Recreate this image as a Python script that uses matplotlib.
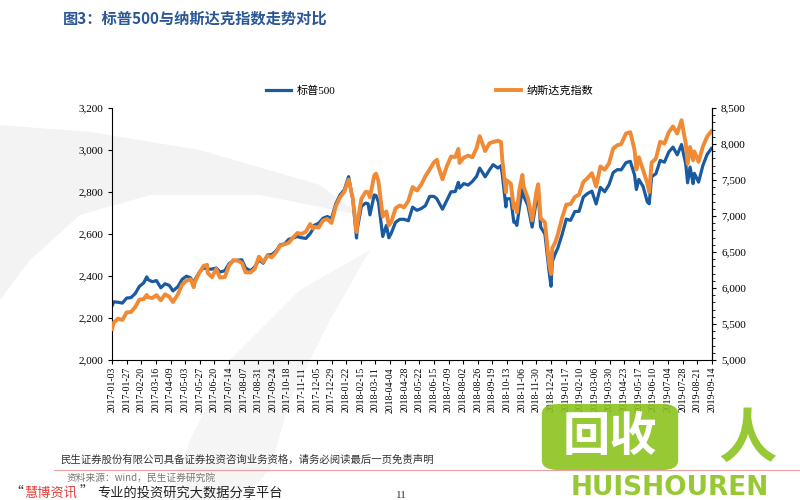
import pandas as pd
import matplotlib.pyplot as plt
from matplotlib.patches import Polygon, FancyBboxPatch
from matplotlib.ticker import FuncFormatter, MultipleLocator

plt.rcParams['font.family'] = ['Liberation Serif', 'Noto Sans CJK SC', 'DejaVu Sans']

# 数据（从图上读取的周度近似值）
dates = ['2017-01-03', '2017-01-06', '2017-01-13', '2017-01-20', '2017-01-27', '2017-02-03',
         '2017-02-10', '2017-02-17', '2017-02-24', '2017-03-01', '2017-03-03', '2017-03-10',
         '2017-03-17', '2017-03-24', '2017-03-31', '2017-04-07', '2017-04-13', '2017-04-21',
         '2017-04-28', '2017-05-05', '2017-05-12', '2017-05-17', '2017-05-19', '2017-05-26',
         '2017-06-02', '2017-06-08', '2017-06-09', '2017-06-16', '2017-06-23', '2017-06-29',
         '2017-07-07', '2017-07-14', '2017-07-21', '2017-07-27', '2017-08-04', '2017-08-10',
         '2017-08-18', '2017-08-25', '2017-09-01', '2017-09-08', '2017-09-15', '2017-09-22',
         '2017-09-29', '2017-10-06', '2017-10-13', '2017-10-20', '2017-10-27', '2017-11-03',
         '2017-11-10', '2017-11-17', '2017-11-24', '2017-11-29', '2017-12-01', '2017-12-08',
         '2017-12-15', '2017-12-22', '2017-12-29',
         '2018-01-05', '2018-01-12', '2018-01-19', '2018-01-26', '2018-02-02', '2018-02-08',
         '2018-02-09', '2018-02-16', '2018-02-23', '2018-02-27', '2018-03-02', '2018-03-09',
         '2018-03-12', '2018-03-16', '2018-03-23', '2018-03-29', '2018-04-02', '2018-04-06',
         '2018-04-13', '2018-04-20', '2018-04-27', '2018-05-04', '2018-05-11', '2018-05-18',
         '2018-05-25', '2018-06-01', '2018-06-08', '2018-06-15', '2018-06-20', '2018-06-22',
         '2018-06-29', '2018-07-06', '2018-07-13', '2018-07-20', '2018-07-25', '2018-07-27',
         '2018-08-03', '2018-08-10', '2018-08-17', '2018-08-24', '2018-08-29', '2018-09-07',
         '2018-09-14', '2018-09-20', '2018-09-28', '2018-10-03', '2018-10-05', '2018-10-11',
         '2018-10-12', '2018-10-19', '2018-10-24', '2018-10-26', '2018-10-29', '2018-11-02',
         '2018-11-07', '2018-11-09', '2018-11-16', '2018-11-23', '2018-11-30', '2018-12-03',
         '2018-12-07', '2018-12-14', '2018-12-21', '2018-12-24', '2018-12-26', '2018-12-31',
         '2019-01-04', '2019-01-11', '2019-01-18', '2019-01-25', '2019-02-01', '2019-02-08',
         '2019-02-15', '2019-02-22', '2019-03-01', '2019-03-08', '2019-03-15', '2019-03-22',
         '2019-03-29', '2019-04-05', '2019-04-12', '2019-04-18', '2019-04-26', '2019-05-03',
         '2019-05-10', '2019-05-13', '2019-05-17', '2019-05-24', '2019-05-31', '2019-06-03',
         '2019-06-07', '2019-06-14', '2019-06-21', '2019-06-28', '2019-07-05', '2019-07-12',
         '2019-07-19', '2019-07-26', '2019-08-02', '2019-08-05', '2019-08-09', '2019-08-14',
         '2019-08-16', '2019-08-23', '2019-08-30', '2019-09-06', '2019-09-13']

sp500 = [2258, 2277, 2275, 2271, 2295, 2297, 2316, 2351, 2367, 2396, 2383, 2373,
         2378, 2344, 2363, 2355, 2329, 2349, 2384, 2399, 2391, 2357, 2382, 2416,
         2439, 2434, 2432, 2433, 2438, 2419, 2425, 2459, 2472, 2475, 2477, 2438,
         2425, 2443, 2477, 2461, 2500, 2502, 2519, 2549, 2553, 2575, 2581, 2588,
         2582, 2579, 2602, 2626, 2642, 2651, 2675, 2683, 2674,
         2743, 2786, 2810, 2873, 2762, 2581, 2620, 2732, 2747, 2744, 2691, 2786,
         2783, 2752, 2588, 2641, 2582, 2604, 2656, 2670, 2670, 2663, 2728, 2713,
         2721, 2735, 2779, 2779, 2767, 2755, 2718, 2760, 2801, 2802, 2846, 2819,
         2840, 2833, 2850, 2875, 2914, 2872, 2905, 2930, 2914, 2925, 2886, 2729,
         2767, 2768, 2656, 2658, 2641, 2723, 2813, 2781, 2736, 2633, 2760, 2790,
         2633, 2600, 2417, 2351, 2468, 2507,
         2532, 2596, 2671, 2665, 2707, 2708, 2776, 2793, 2804, 2743, 2822, 2801,
         2834, 2893, 2907, 2905, 2940, 2946, 2881, 2812, 2860, 2826, 2752, 2744,
         2873, 2887, 2950, 2942, 2990, 3014, 2977, 3026, 2932, 2844, 2919, 2840,
         2889, 2847, 2926, 2979, 3007]

nasdaq = [5429, 5521, 5574, 5555, 5661, 5667, 5734, 5839, 5845, 5904, 5871, 5861,
          5901, 5829, 5912, 5878, 5805, 5910, 6048, 6100, 6121, 6011, 6083, 6210,
          6306, 6322, 6208, 6151, 6265, 6144, 6153, 6312, 6388, 6382, 6351, 6217,
          6216, 6265, 6435, 6360, 6448, 6427, 6496, 6590, 6606, 6629, 6701, 6764,
          6751, 6783, 6889, 6824, 6848, 6840, 6937, 6959, 6903,
          7136, 7261, 7336, 7506, 7241, 6777, 6874, 7239, 7337, 7330, 7258, 7560,
          7588, 7482, 6993, 7063, 6870, 6915, 7107, 7146, 7120, 7209, 7403, 7354,
          7434, 7554, 7646, 7746, 7781, 7692, 7510, 7688, 7826, 7820, 7932, 7737,
          7812, 7839, 7816, 7945, 8109, 7903, 8010, 8028, 8046, 8025, 7788, 7329,
          7497, 7449, 7108, 7167, 7050, 7357, 7570, 7407, 7248, 6939, 7331, 7441,
          6969, 6911, 6333, 6193, 6554, 6635,
          6739, 6971, 7157, 7165, 7263, 7298, 7472, 7527, 7595, 7408, 7688, 7643,
          7729, 7939, 7984, 7998, 8146, 8164, 7917, 7647, 7816, 7637, 7453, 7333,
          7742, 7797, 8032, 8006, 8162, 8244, 8146, 8330, 8004, 7726, 7959, 7774,
          7896, 7752, 7963, 8103, 8177]

series_names = ['标普500', '纳斯达克指数']

x = pd.to_datetime(dates)
tick_dates = pd.date_range('2017-01-03', '2019-09-14', freq='24D')

fig = plt.figure(figsize=(8, 5), dpi=100)


def px(pts):
    return [(a / 800, 1 - b / 500) for a, b in pts]


# 背景水印（浅灰色弧形）
fig.patches.append(Polygon(px([(0, 125), (90, 132), (200, 150), (320, 185), (360, 215),
                               (260, 195), (150, 195), (80, 215), (30, 260), (0, 300)]),
                           closed=True, transform=fig.transFigure, facecolor='#f3f3f3',
                           edgecolor='none', zorder=-1))
fig.patches.append(Polygon(px([(190, 440), (230, 360), (300, 290), (370, 250), (330, 320),
                               (290, 400), (270, 470), (240, 500), (170, 500)]),
                           closed=True, transform=fig.transFigure, facecolor='#f5f5f5',
                           edgecolor='none', zorder=-1))

ax = fig.add_axes([0.14, 0.28, 0.75, 0.504])
ax.patch.set_alpha(0)
ax2 = ax.twinx()

l1, = ax.plot(x, sp500, color='#1a5aa0', lw=2.3)
l2, = ax2.plot(x, nasdaq, color='#f08a35', lw=2.8)

ax.set_xlim(pd.Timestamp('2017-01-03'), pd.Timestamp('2019-09-14'))
ax.set_ylim(2000, 3200)
ax2.set_ylim(5000, 8500)
ax.yaxis.set_major_locator(MultipleLocator(200))
ax2.yaxis.set_major_locator(MultipleLocator(500))
ax2.yaxis.set_minor_locator(MultipleLocator(100))
fmt = FuncFormatter(lambda v, p: f'{int(v):,}')
ax.yaxis.set_major_formatter(fmt)
ax2.yaxis.set_major_formatter(fmt)

ax.set_xticks(tick_dates)
ax.set_xticklabels([d.strftime('%Y-%m-%d') for d in tick_dates], rotation=90, fontsize=7)
ax.tick_params(axis='x', length=3, pad=2)
ax.tick_params(axis='y', labelsize=8, length=3)
ax2.tick_params(axis='y', labelsize=8, length=3)
ax2.tick_params(axis='y', which='minor', length=2)

for a in (ax, ax2):
    a.spines['top'].set_visible(False)
ax2.spines['left'].set_visible(False)
ax2.spines['bottom'].set_visible(False)

fig.legend([l1, l2], series_names, loc='center', bbox_to_anchor=(0.537, 0.818), ncol=2,
           frameon=False, columnspacing=14.5, handlelength=2.2, handletextpad=0.5, fontsize=8)

# 标题
fig.text(0.078, 0.963, '图3：标普500与纳斯达克指数走势对比', fontsize=11, fontweight='bold',
         color='#2b5797', family=['Noto Sans CJK SC'], va='center')

# 页脚
fig.text(0.075, 0.08, '民生证券股份有限公司具备证券投资咨询业务资格，请务必阅读最后一页免责声明',
         fontsize=7.5, color='#333333', family=['Noto Sans CJK SC'], va='center')
fig.add_artist(plt.Line2D([0.068, 1.0], [0.06, 0.06], color='#e8a0a0', lw=0.8))
fig.text(0.083, 0.045, '资料来源：wind，民生证券研究院', fontsize=7, color='#777777',
         style='italic', family=['Noto Sans CJK SC'], va='center')
fig.text(0.012, 0.014, '“', fontsize=10, color='#333333', family=['Noto Sans CJK SC'], va='center')
fig.text(0.03, 0.014, '慧博资讯', fontsize=9.5, color='#e0403a', family=['Noto Sans CJK SC'],
         va='center')
fig.text(0.1, 0.014, '”', fontsize=10, color='#333333', family=['Noto Sans CJK SC'], va='center')
fig.text(0.122, 0.014, '专业的投资研究大数据分享平台', fontsize=9.5, color='#222222',
         family=['Noto Sans CJK SC'], va='center')
fig.text(0.495, 0.008, '11', fontsize=8, color='#333333', va='center')

# 右下角水印标志
fig.patches.append(FancyBboxPatch((545 / 800, 1 - 468 / 500), 130 / 800, 62 / 500,
                                  boxstyle='round,pad=0.004,rounding_size=0.02',
                                  transform=fig.transFigure, facecolor='#8cc31f',
                                  edgecolor='none', alpha=0.9, zorder=5))
fig.text(610 / 800, 1 - 437 / 500, '回收', fontsize=34, fontweight='bold', color='white',
         family=['Noto Sans CJK SC'], ha='center', va='center', zorder=6)
fig.text(748 / 800, 1 - 440 / 500, '人', fontsize=42, fontweight='bold', color='#8cc31f',
         family=['Noto Sans CJK SC'], ha='center', va='center', alpha=0.9, zorder=6)
fig.text(670 / 800, 1 - 488 / 500, 'HUISHOUREN', fontsize=19, fontweight='bold',
         color='#8cc31f', family=['DejaVu Sans'], ha='center', va='center', alpha=0.9, zorder=6)

fig.savefig('out.png', dpi=100)
